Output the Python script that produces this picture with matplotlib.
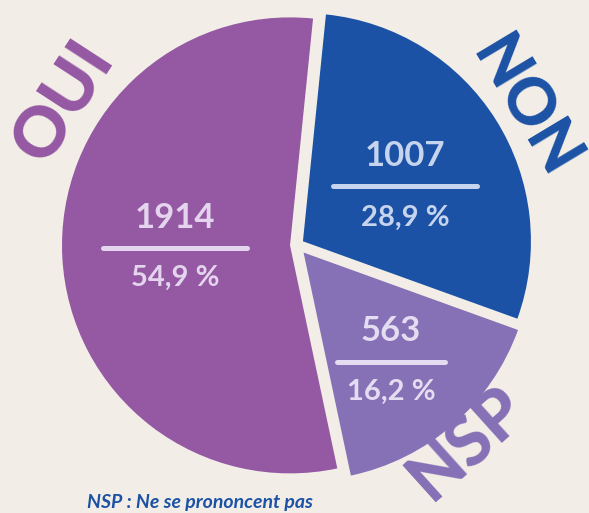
import matplotlib.pyplot as plt

#######################################
#      data                           #
#######################################
labels = ['OUI', 'NSP', 'NON']
counts = [1914, 563, 1007]
percents = ['54,9 %', '16,2 %', '28,9 %']
footer = 'NSP : Ne se prononcent pas'

#######################################
#      style                          #
#######################################
bg = '#f2eee7'
slice_colors = ['#9558a3', '#8670b6', '#1c52a5']
text_colors = ['#e4d4ee', '#e4dcf1', '#c6d4ee']
explode = [7, 10, 7]   # in pixels (data units)

W, H = 589, 513
fig = plt.figure(figsize=(W / 100, H / 100), dpi=100, facecolor=bg)
ax = fig.add_axes([0, 0, 1, 1])

R = 228
C = (297, H - 245)

wedges, _ = ax.pie(counts, colors=slice_colors, startangle=84.2,
                   counterclock=True, radius=R, center=C, explode=explode,
                   wedgeprops=dict(linewidth=0), frame=True)
ax.set_xlim(0, W)
ax.set_ylim(0, H)
ax.set_aspect('equal')
ax.axis('off')

###############################
#     numbers inside slices   #
###############################
# (x, y of number, y of line, y of percent, half width of line) in pixels
blocks = [(175, 218, 248, 278, 72),
          (391, 331, 362, 392, 54),
          (405, 156, 186, 218, 72)]
for i, (x, yn, yl, yp, hw) in enumerate(blocks):
    ax.text(x, H - yn, str(counts[i]), color=text_colors[i], fontsize=25,
            fontweight='bold', family='Lato', ha='center', va='center')
    ax.plot([x - hw, x + hw], [H - yl, H - yl], color=text_colors[i], lw=3.6,
            solid_capstyle='round')
    ax.text(x, H - yp, percents[i], color=text_colors[i], fontsize=21,
            fontweight='bold', family='Lato', ha='center', va='center')

###############################
#     big rotated labels      #
###############################
big = [(64, 102, 57, 50), (468, 444, 42, 49), (524, 108, -59, 46)]
for i, (x, y, rot, fs) in enumerate(big):
    ax.text(x, H - y, labels[i], color=slice_colors[i], fontsize=fs,
            fontweight='black', family='Lato', ha='center', va='center',
            rotation=rot, rotation_mode='anchor')

# footer, raised a little so it stays readable
ax.text(87, 5, footer, color='#1c52a5', fontsize=14, fontstyle='italic',
        fontweight='bold', family='Lato', ha='left', va='baseline')

plt.savefig('out.png', dpi=100, facecolor=bg)
